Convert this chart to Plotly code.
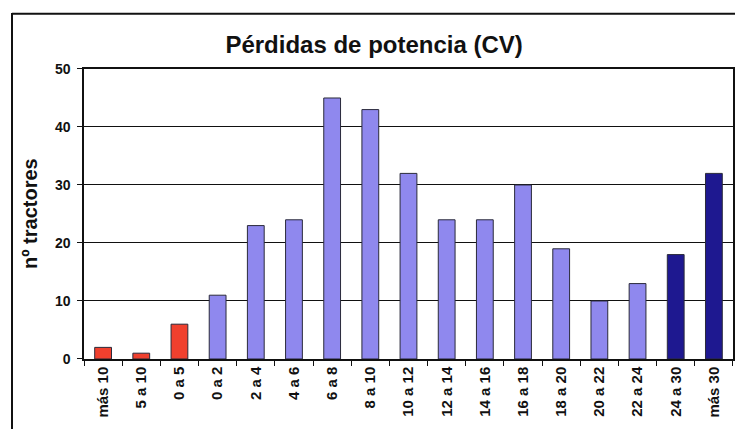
import plotly.graph_objects as go

categories = ["más 10", "5 a 10", "0 a 5", "0 a 2", "2 a 4", "4 a 6", "6 a 8", "8 a 10",
              "10 a 12", "12 a 14", "14 a 16", "16 a 18", "18 a 20", "20 a 22", "22 a 24",
              "24 a 30", "más 30"]
values = [2, 1, 6, 11, 23, 24, 45, 43, 32, 24, 24, 30, 19, 10, 13, 18, 32]
groups = ["red"] * 3 + ["mid"] * 12 + ["dark"] * 2
y_ticks = [0, 10, 20, 30, 40, 50]

palette = {"red": "#f0402e", "mid": "#8f88ee", "dark": "#1e1890"}
colors = [palette[g] for g in groups]

fig = go.Figure(go.Bar(
    x=categories, y=values,
    marker=dict(color=colors, line=dict(color="#2a2a3a", width=1)),
))

# paper = outer frame (x 12..735, y 13..429); plot area placed inside via domains
fig.update_layout(
    width=735, height=429,
    margin=dict(l=12, r=0, t=13, b=0),
    paper_bgcolor="white", plot_bgcolor="white",
    bargap=0.56,
    showlegend=False,
    font=dict(family="Liberation Sans, Arial, sans-serif", color="#111"),
    title=dict(text="<b>Pérdidas de potencia (CV)</b>", x=0.509, xanchor="center",
               y=0.895, yanchor="middle", font=dict(size=24, color="#111")),
    xaxis=dict(type="category", tickangle=-90, automargin=False,
               domain=[0.0996, 0.9972],
               tickfont=dict(size=15, weight="bold"),
               showline=True, linecolor="#111", linewidth=1.5, mirror=True,
               ticks="outside", ticklen=5, tickcolor="#111", tickson="boundaries",
               showgrid=False),
    yaxis=dict(range=[0, 50], tickvals=y_ticks, automargin=False,
               domain=[0.1683, 0.8654],
               tickfont=dict(size=14, weight="bold"), ticklabelstandoff=4,
               showline=True, linecolor="#111", linewidth=1.5, mirror=True,
               ticks="outside", ticklen=5, tickcolor="#111",
               showgrid=True, gridcolor="#111", gridwidth=1.2, zeroline=False),
    annotations=[
        dict(text="<b>nº tractores</b>", xref="paper", yref="paper",
             x=0.0249, y=0.5168, textangle=-90, showarrow=False,
             xanchor="center", yanchor="middle", font=dict(size=20, color="#111")),
    ],
    shapes=[
        dict(type="line", xref="paper", yref="paper", x0=0, x1=0, y0=-0.05, y1=1.0,
             line=dict(color="#111", width=2)),
        dict(type="line", xref="paper", yref="paper", x0=0, x1=1.01, y0=0.998, y1=0.998,
             line=dict(color="#111", width=2)),
    ],
)

fig.write_html("out.html", config={"displayModeBar": False},
               post_script="document.body.style.margin='0';")
